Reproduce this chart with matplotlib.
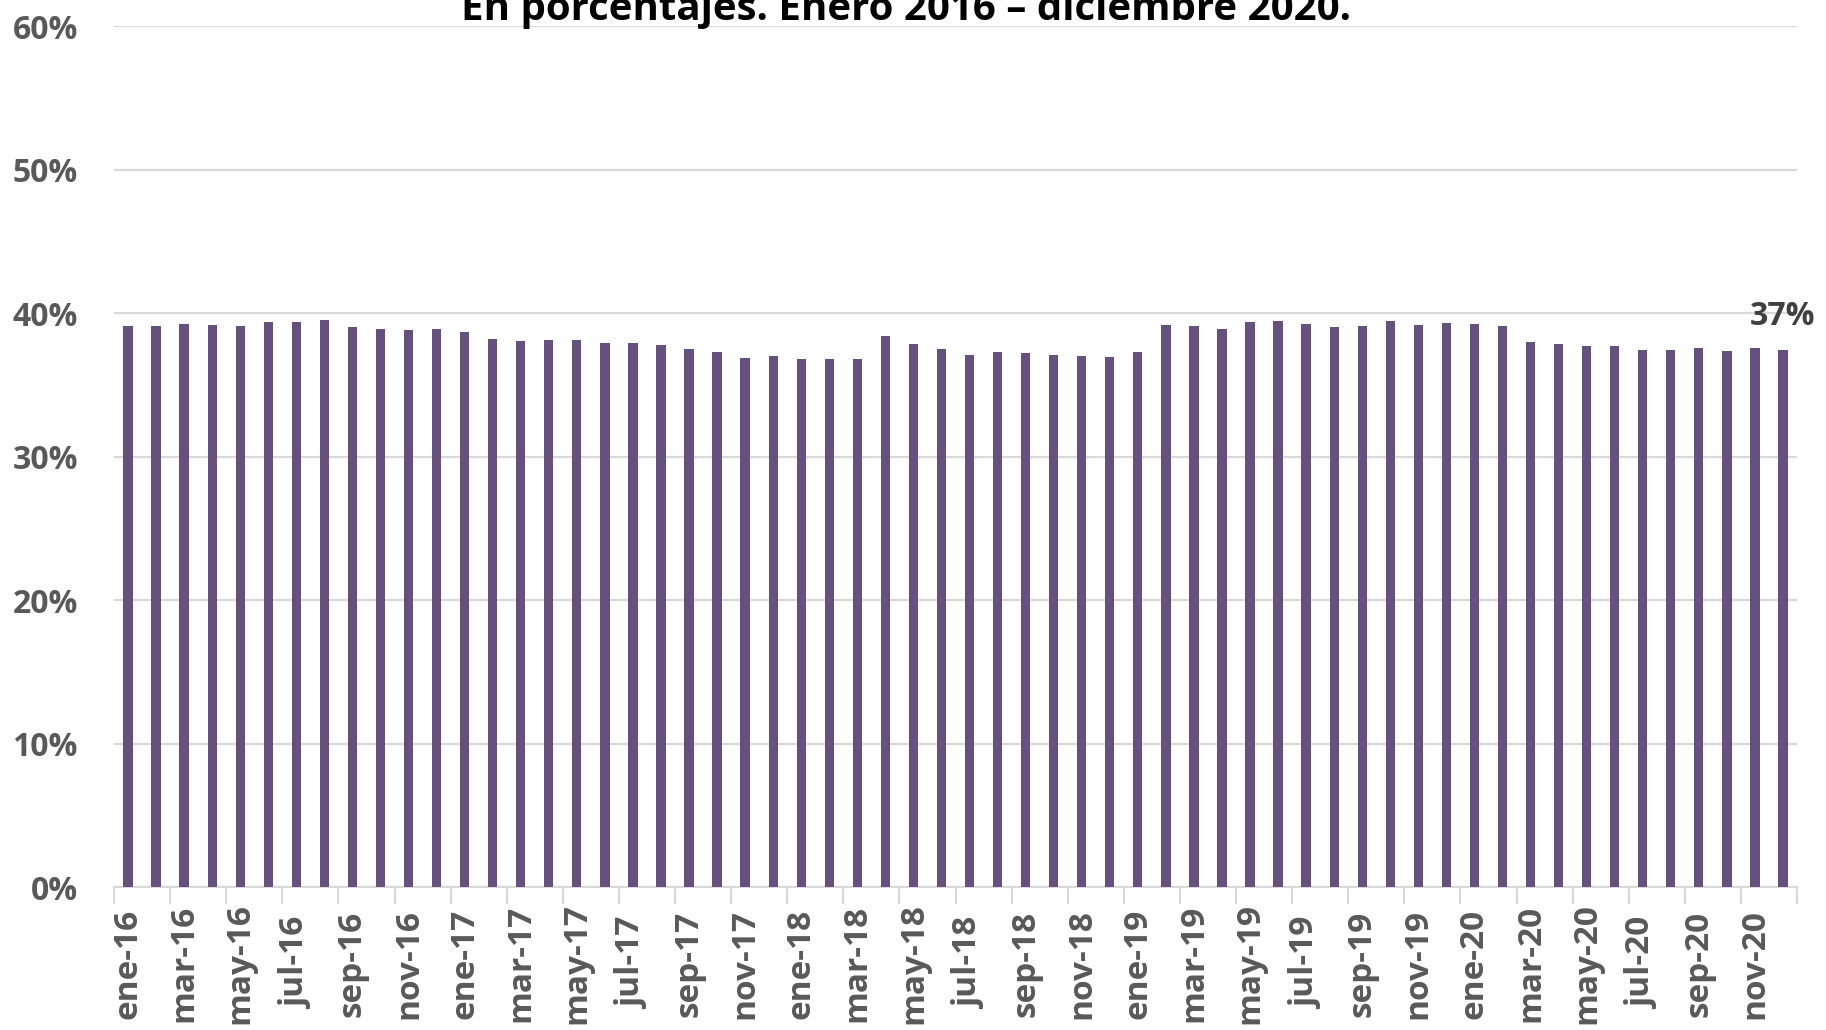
"""
Participación mensual (en %) - enero 2016 a diciembre 2020.
Columnas simples, estilo Excel.
"""

import matplotlib
matplotlib.use("Agg")
import matplotlib.pyplot as plt
import numpy as np

TITLE = "En porcentajes. Enero 2016 \u2013 diciembre 2020."

MONTHS = ["ene", "feb", "mar", "abr", "may", "jun",
          "jul", "ago", "sep", "oct", "nov", "dic"]
YEARS = ["16", "17", "18", "19", "20"]

# valores (%)
values_2016 = [39.12, 39.14, 39.26, 39.19, 39.14, 39.37, 39.40, 39.54, 39.07, 38.88, 38.82, 38.88]
values_2017 = [38.70, 38.19, 38.10, 38.14, 38.14, 37.96, 37.91, 37.79, 37.51, 37.28, 36.89, 37.00]
values_2018 = [36.79, 36.82, 36.82, 38.40, 37.89, 37.51, 37.10, 37.31, 37.21, 37.10, 37.05, 36.96]
values_2019 = [37.31, 39.19, 39.14, 38.91, 39.40, 39.44, 39.28, 39.07, 39.14, 39.44, 39.19, 39.33]
values_2020 = [39.26, 39.14, 37.98, 37.84, 37.72, 37.72, 37.44, 37.44, 37.58, 37.35, 37.58, 37.44]

BAR_COLOR = "#65507f"
GRID_COLOR = "#d9d9d9"
TEXT_COLOR = "#595959"
FONT = "Open Sans"


def main() -> None:
    values = np.array(values_2016 + values_2017 + values_2018 + values_2019 + values_2020) / 100
    labels = [f"{m}-{y}" for y in YEARS for m in MONTHS]
    x = np.arange(len(values))

    fig = plt.figure(figsize=(18.26, 10.30), dpi=100)
    ax = fig.add_axes([114 / 1826, 1 - 887.3 / 1030, (1797 - 114) / 1826, (887.3 - 26.3) / 1030])

    ax.bar(x, values, width=0.33, color=BAR_COLOR, zorder=3)

    ax.set_xlim(-0.5, len(values) - 0.5)
    ax.set_ylim(0, 0.6)
    yt = np.arange(0, 0.61, 0.1)
    ax.set_yticks(yt)
    ax.set_yticklabels([f"{int(round(v * 100))}%" for v in yt],
                       fontsize=23, fontweight="bold", color=TEXT_COLOR, family=FONT)
    ax.tick_params(axis="y", length=0, pad=26)
    ax.grid(axis="y", color=GRID_COLOR, linewidth=1.6, zorder=0)

    # marcas en los bordes de categoría cada 2 meses, etiquetas centradas
    ax.set_xticks(np.arange(-0.5, len(values), 2))
    ax.set_xticklabels([])
    ax.tick_params(axis="x", which="major", length=12, width=1.5, color=GRID_COLOR)
    ax.set_xticks(x[::2], minor=True)
    ax.set_xticklabels(labels[::2], minor=True, rotation=90, fontsize=24,
                       fontweight="bold", color=TEXT_COLOR, family=FONT,
                       va="center", ha="center")
    ax.tick_params(axis="x", which="minor", length=0, pad=55)

    for side in ("top", "right", "left"):
        ax.spines[side].set_visible(False)
    ax.spines["bottom"].set_color(GRID_COLOR)
    ax.spines["bottom"].set_linewidth(1.6)

    # etiqueta del último dato
    ax.annotate(f"{values[-1] * 100:.0f}%", xy=(x[-1], values[-1]), xytext=(0, 24),
                textcoords="offset points", ha="center", va="center",
                fontsize=23, fontweight="bold", color="#404040", family=FONT)

    fig.text(0.496, 1 - 20 / 1030, TITLE, ha="center", va="baseline",
             fontsize=29, fontweight="bold", color="#000000", family=FONT)

    fig.savefig("out.png", dpi=100)


if __name__ == "__main__":
    main()
